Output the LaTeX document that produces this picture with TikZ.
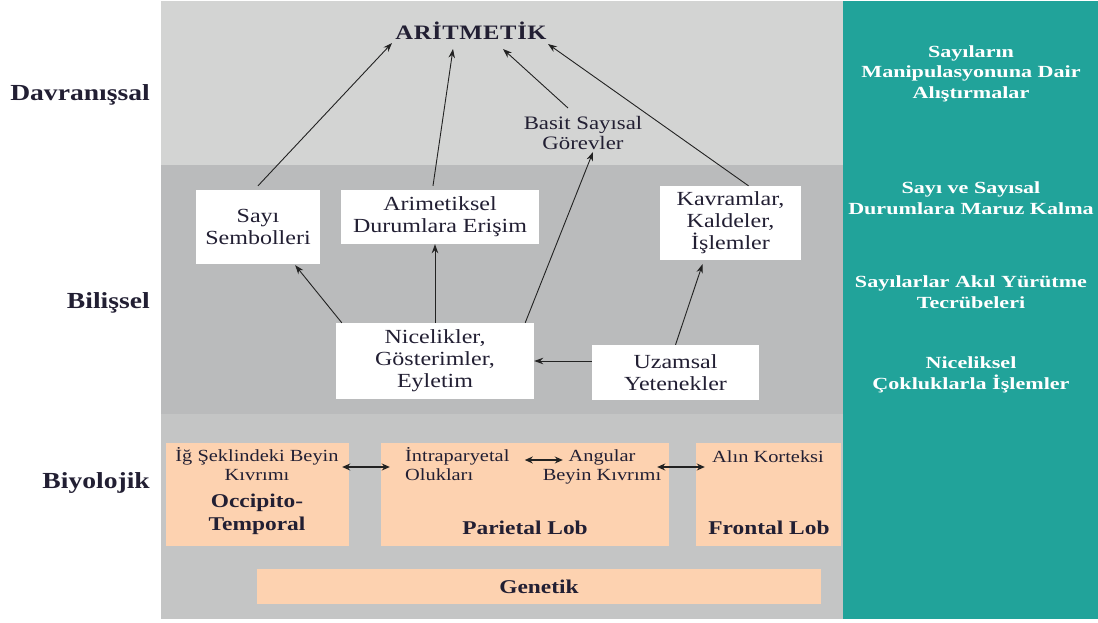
\documentclass[tikz,border=0pt]{standalone}
\usepackage{fontspec}
\setmainfont{Liberation Serif}[FakeStretch=1.2]
\newfontfamily\tealf{Liberation Serif}[FakeStretch=1.3]
\usetikzlibrary{arrows.meta,calc}
\definecolor{topg}{HTML}{D3D4D3}
\definecolor{midg}{HTML}{BABBBC}
\definecolor{botg}{HTML}{C4C5C5}
\definecolor{tealc}{HTML}{21A39A}
\definecolor{peach}{HTML}{FDD2B0}
\definecolor{txt}{HTML}{221F33}
\definecolor{arrc}{HTML}{222222}
\tikzset{
  wbox/.style={fill=white, inner sep=0pt, align=center, text=txt, font=\fontsize{20}{22}\selectfont},
  pbox/.style={fill=peach, inner sep=0pt},
  arr/.style={draw=arrc, line width=0.9pt, -{Stealth[length=9pt,width=6.5pt]}},
  darr/.style={draw=arrc, line width=1.3pt, {Stealth[length=8pt,width=7pt]}-{Stealth[length=8pt,width=7pt]}},
  lbl/.style={anchor=east, inner sep=0pt, text=txt, font=\fontsize{23}{26}\selectfont\bfseries},
  tealtxt/.style={inner sep=0pt, align=center, text=white, font=\tealf\fontsize{17}{20.5}\selectfont\bfseries},
  smalltxt/.style={inner sep=0pt, align=center, text=txt, font=\fontsize{17}{19}\selectfont},
  ttl/.style={inner sep=0pt, align=center, text=txt, font=\fontsize{19.5}{23}\selectfont\bfseries}
}
\begin{document}
\begin{tikzpicture}[x=1pt,y=-1pt]
\useasboundingbox (0,0) rectangle (1098,622);
\fill[white] (0,0) rectangle (1098,622);
% bands
\fill[topg] (161,1) rectangle (843,165);
\fill[midg] (161,165) rectangle (843,414);
\fill[botg] (161,414) rectangle (843,619);
\fill[tealc] (843,1) rectangle (1098,619);

% left labels
\node[lbl] (dav) at (150,95) {Davranışsal};
\node[lbl] (bil) at (150,303) {Bilişsel};
\node[lbl] (biy) at (150,483) {Biyolojik};

% teal texts
\node[tealtxt] (t1) at (971,73.5) {Sayıların\\Manipulasyonuna Dair\\Alıştırmalar};
\node[tealtxt] (t2) at (971,198) {Sayı ve Sayısal\\Durumlara Maruz Kalma};
\node[tealtxt] (t3) at (971,292) {Sayılarlar Akıl Yürütme\\Tecrübeleri};
\node[tealtxt] (t4) at (971,375) {Niceliksel\\Çokluklarla İşlemler};

% top
\node[inner sep=0pt, text=txt, font=\fontsize{20.5}{24}\selectfont\bfseries\addfontfeature{LetterSpace=3}] (arit) at (471,31) {ARİTMETİK};
\node[inner sep=0pt, align=center, text=txt, font=\fontsize{19}{20}\selectfont] (basit) at (583,133) {Basit Sayısal\\Görevler};

% cognitive boxes
\node[wbox, minimum width=124pt, minimum height=74pt] (sayi) at (258,227) {Sayı\\Sembolleri};
\node[wbox, minimum width=198pt, minimum height=54pt] (arim) at (440,217) {Arimetiksel\\Durumlara Erişim};
\node[wbox, minimum width=141pt, minimum height=74pt] (kavr) at (730.5,223) {Kavramlar,\\Kaldeler,\\İşlemler};
\node[wbox, minimum width=198pt, minimum height=76pt] (nice) at (435,361) {Nicelikler,\\Gösterimler,\\Eyletim};
\node[wbox, minimum width=167pt, minimum height=55pt] (uzam) at (675.5,372.5) {Uzamsal\\Yetenekler};

% arrows to ARİTMETİK
\draw[arr] ([yshift=4pt]sayi.north) -- ([xshift=-79pt,yshift=-12pt]arit.center);
\draw[arr] ([xshift=-7pt,yshift=4pt]arim.north) -- ([xshift=-18pt,yshift=-18pt]arit.center);
\draw[arr] ([xshift=-15pt,yshift=25pt]basit.center) -- ([xshift=32pt,yshift=-18pt]arit.center);
\draw[arr] ([xshift=18pt]kavr.north) -- ([xshift=77pt,yshift=-13pt]arit.center);

% cognitive arrows
\draw[arr] ([xshift=6pt]nice.north west) -- ([xshift=-25pt,yshift=-1pt]sayi.south east);
\draw[arr] (nice.north) -- (nice.north |- arim.south);
\draw[arr] ([xshift=-9pt]nice.north east) -- ([xshift=10pt,yshift=-19pt]basit.center);
\draw[arr] (uzam.west |- nice.east) -- (nice.east);
\draw[arr] (uzam.north) -- ([xshift=-28pt,yshift=-4pt]kavr.south);

% biological boxes
\node[pbox, minimum width=183pt, minimum height=103pt] (occ) at (257.5,494.5) {};
\node[pbox, minimum width=288pt, minimum height=103pt] (par) at (525,494.5) {};
\node[pbox, minimum width=145pt, minimum height=103pt] (fro) at (768.5,494.5) {};
\node[pbox, minimum width=564pt, minimum height=35pt, text=txt, font=\fontsize{19.5}{23}\selectfont\bfseries] (gen) at (539,586.5) {Genetik};

\node[smalltxt] (ig) at (257,464) {İğ Şeklindeki Beyin\\Kıvrımı};
\node[ttl] (occt) at (257,514.5) {Occipito-\\Temporal};
\node[smalltxt, align=left, anchor=west] (intra) at (405,464) {İntraparyetal\\Olukları};
\node[smalltxt] (ang) at (602,467) {Angular\\Beyin Kıvrımı};
\node[smalltxt] (alin) at (768,457) {Alın Korteksi};
\node[ttl] (part) at (525,528) {Parietal Lob};
\node[ttl] (frot) at (769,528) {Frontal Lob};

\draw[darr] ([xshift=-7pt,yshift=27.5pt]occ.east) -- ([xshift=9pt,yshift=27.5pt]par.west);
\draw[darr] ([xshift=144pt,yshift=34.5pt]par.west) -- ([xshift=182pt,yshift=34.5pt]par.west);
\draw[darr] ([xshift=-12pt,yshift=27.5pt]par.east) -- ([xshift=9pt,yshift=27.5pt]fro.west);
\end{tikzpicture}
\end{document}
